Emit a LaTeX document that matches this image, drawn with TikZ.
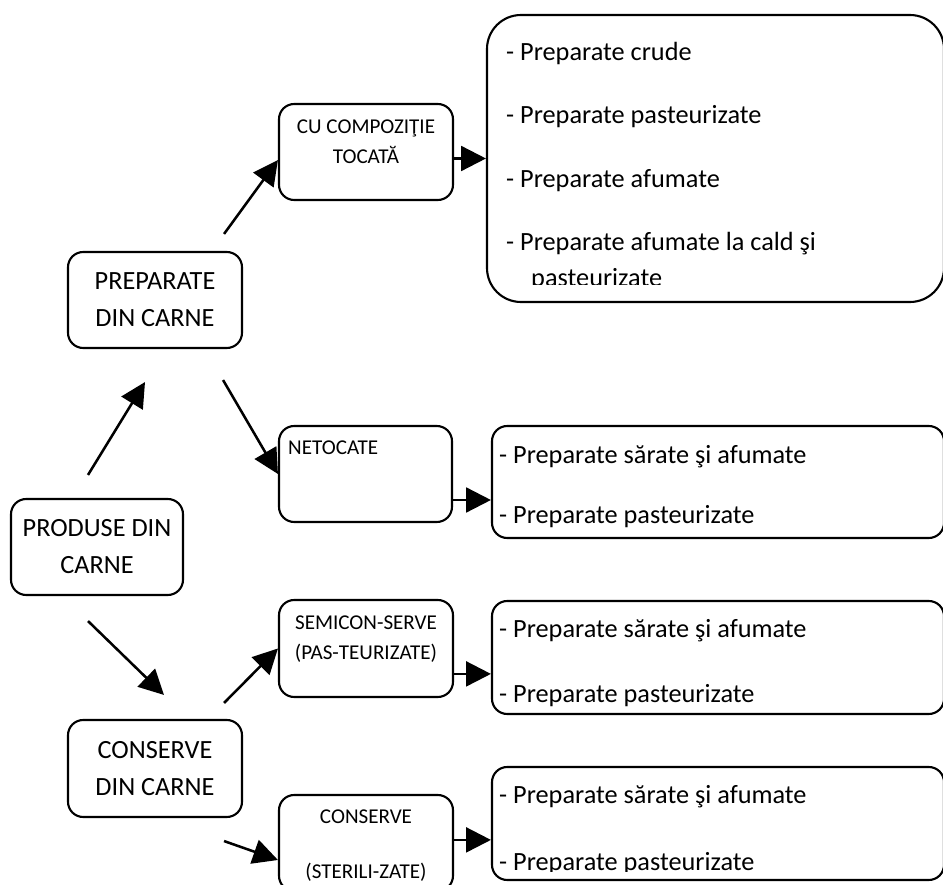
\documentclass[tikz,border=0pt]{standalone}
\usepackage{fontspec}
\setmainfont{Carlito}
\usetikzlibrary{arrows.meta,positioning}

\tikzset{
  box/.style={draw,line width=1.5pt,rounded corners=0.38cm,minimum width=4.35cm,minimum height=2.4cm,inner sep=0pt},
  listbox/.style={box,minimum width=11.3cm,minimum height=2.8cm},
  bigfont/.style={font=\fontsize{18.7}{26.3}\selectfont,align=center},
  smallfont/.style={font=\fontsize{15}{21.3}\selectfont,align=center,inner sep=0pt},
  listfont/.style={font=\fontsize{18.7}{25.6}\selectfont,align=left,inner sep=0pt},
  arr/.style={-{Triangle[length=0.62cm,width=0.62cm]},line width=1.8pt}
}

\begin{document}
\begin{tikzpicture}
  \useasboundingbox (0,0) rectangle (23.575,22.1);

  % left column
  \node[box,bigfont,minimum width=4.3cm] (produse) at (2.425,8.425) {PRODUSE DIN\\CARNE};
  \node[box,bigfont] (prep) at (3.875,14.6) {PREPARATE\\DIN CARNE};
  \node[box,bigfont,minimum height=2.425cm] (cons) at (3.875,2.8875) {CONSERVE\\DIN CARNE};

  % middle column, text sits at the top of each box
  \node[box] (tocata) at (9.15,18.3) {};
  \node[box,minimum width=4.325cm] (netoc) at (9.1375,10.25) {};
  \node[box,minimum height=2.425cm] (semic) at (9.15,5.8875) {};
  \node[box] (steril) at (9.15,1.025) {};
  \node[smallfont,below=0.41cm of tocata.north] (tocata-t) {CU COMPOZIŢIE\\TOCATĂ};
  \node[smallfont,below right=0.38cm and 0.25cm of netoc.north west] (netoc-t) {NETOCATE};
  \node[smallfont,below=0.41cm of semic.north] (semic-t) {SEMICON-SERVE\\(PAS-TEURIZATE)};
  \node[smallfont,below=0.38cm of steril.north] (steril-t) {CONSERVE\\[18pt](STERILI-ZATE)};

  % right column
  \node[box,minimum width=11.425cm,minimum height=7.175cm,rounded corners=0.85cm] (list1) at (17.8875,18.1375) {};
  \node[listbox] (list2) at (17.95,10.05) {};
  \node[listbox,minimum height=2.825cm] (list3) at (17.95,5.6625) {};
  \node[listbox,minimum height=2.825cm] (list4) at (17.95,1.5125) {};

  % last line of the first list is cut off by its box
  \begin{scope}
    \clip (12,14.975) rectangle (23.575,22.1);
    \node[listfont,below right=0.7cm and 0.5cm of list1.north west] (list1-t)
      {- Preparate crude\\[19.4pt]- Preparate pasteurizate\\[19.4pt]- Preparate afumate\\[19.4pt]- Preparate afumate la cald şi\\\hspace*{0.625cm}pasteurizate};
  \end{scope}
  \node[listfont,below right=0.5cm and 0.2cm of list2.north west] (list2-t)
    {- Preparate sărate şi afumate\\[17pt]- Preparate pasteurizate};
  \node[listfont,below right=0.47cm and 0.2cm of list3.north west] (list3-t)
    {- Preparate sărate şi afumate\\[20.6pt]- Preparate pasteurizate};
  \begin{scope}
    \clip (12,0.325) rectangle (23.575,4);
    \node[listfont,below right=0.47cm and 0.2cm of list4.north west] (list4-t)
      {- Preparate sărate şi afumate\\[22pt]- Preparate pasteurizate};
  \end{scope}

  % arrows between the columns
  \draw[arr] ([shift={(-0.225,0.575)}]produse.north) -- ([shift={(-0.25,-0.825)}]prep.south);
  \draw[arr] ([shift={(-0.225,-0.625)}]produse.south) -- ([shift={(0.225,0.6)}]cons.north);
  \draw[arr] ([shift={(-0.475,0.425)}]prep.north east) -- ([yshift=-0.2cm]tocata.west);
  \draw[arr] ([shift={(-0.5,-0.775)}]prep.south east) -- (netoc.west);
  \draw[arr] ([shift={(-0.475,0.4)}]cons.north east) -- (semic.west);
  \draw[arr] ([shift={(-0.475,-0.575)}]cons.south east) -- ([yshift=-0.425cm]steril.west);

  % arrows into the lists
  \coordinate (in2) at ([yshift=-0.45cm]list2.west);
  \coordinate (in3) at ([yshift=-0.41cm]list3.west);
  \coordinate (in4) at ([yshift=-0.41cm]list4.west);
  \draw[arr] (tocata.east |- list1.west) -- (list1.west);
  \draw[arr] (netoc.east |- in2) -- (in2);
  \draw[arr] (semic.east |- in3) -- (in3);
  \draw[arr] (steril.east |- in4) -- (in4);
\end{tikzpicture}
\end{document}
